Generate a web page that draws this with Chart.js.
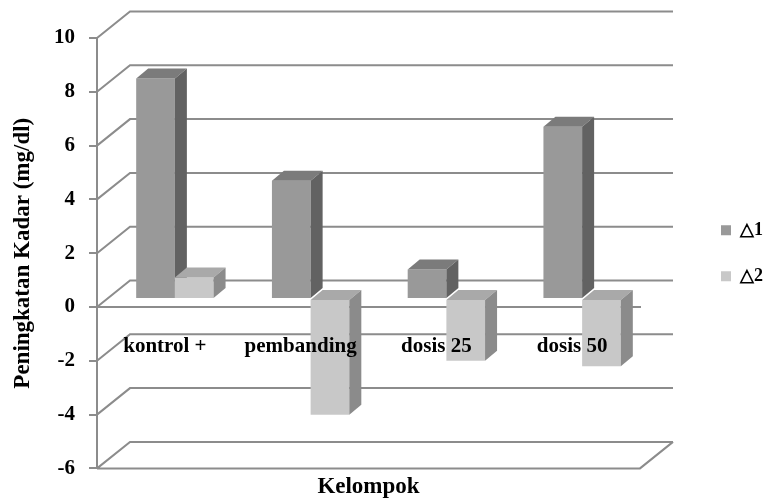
<!DOCTYPE html>
<html>
<head>
<meta charset="utf-8">
<script src="https://cdn.jsdelivr.net/npm/chart.js@4.4.1/dist/chart.umd.min.js"></script>
<style>
  html, body { margin: 0; padding: 0; background: #fff; }
  #wrap { width: 764px; height: 502px; }
</style>
</head>
<body>
<div id="wrap"><canvas id="c" width="764" height="502"></canvas></div>
<script>
// Groups and the two measured increases (mg/dl)
const categories = ['kontrol +', 'pembanding', 'dosis 25', 'dosis 50'];
const delta1 = [8.2, 4.4, 1.1, 6.4];
const delta2 = [0.8, -4.3, -2.3, -2.5];
const seriesNames = ['\u25B31', '\u25B32'];
const yTicks = [-6, -4, -2, 0, 2, 4, 6, 8, 10];

const FONT = 'Liberation Serif';
const LINE = '#8c8c8c';
const WALL = { dx: 33, dy: -26.5 };   // depth of the back wall
const PLANE = { dx: 10, dy: -8 };     // plane the columns stand in
const DEPTH = { dx: 12, dy: -10 };    // column thickness
const faces = [
  { front: '#999999', top: '#7b7b7b', side: '#626262' },
  { front: '#c8c8c8', top: '#a9a9a9', side: '#8b8b8b' }
];

function poly(ctx, pts) {
  ctx.beginPath();
  ctx.moveTo(pts[0][0], pts[0][1]);
  for (let i = 1; i < pts.length; i++) ctx.lineTo(pts[i][0], pts[i][1]);
  ctx.closePath();
  ctx.fill();
}

function drawFaces(ctx, meta, index) {
  const f = faces[index];
  meta.data.forEach(bar => {
    const { x, y, base, width } = bar.getProps(['x', 'y', 'base', 'width'], true);
    const l = x - width / 2, r = x + width / 2;
    const t = Math.min(y, base), b = Math.max(y, base);
    ctx.fillStyle = f.top;
    poly(ctx, [[l, t], [l + DEPTH.dx, t + DEPTH.dy], [r + DEPTH.dx, t + DEPTH.dy], [r, t]]);
    ctx.fillStyle = f.side;
    poly(ctx, [[r, t], [r + DEPTH.dx, t + DEPTH.dy], [r + DEPTH.dx, b + DEPTH.dy], [r, b]]);
  });
}

// Side wall / back wall gridlines, the floor, and 3D column faces.
// The right-hand series is painted last so it sits in front of the left one.
const box3d = {
  id: 'box3d',
  beforeDatasetsDraw(chart) {
    const { ctx, chartArea: a, scales: { y } } = chart;
    ctx.save();
    ctx.strokeStyle = LINE;
    ctx.lineWidth = 2;
    ctx.beginPath();
    y.ticks.forEach(t => {
      const py = y.getPixelForValue(t.value);
      ctx.moveTo(a.left, py);
      ctx.lineTo(a.left + WALL.dx, py + WALL.dy);
      ctx.lineTo(a.right + WALL.dx, py + WALL.dy);
    });
    const fy = y.getPixelForValue(y.min);
    ctx.moveTo(a.left, fy);
    ctx.lineTo(a.right, fy);
    ctx.lineTo(a.right + WALL.dx, fy + WALL.dy);
    ctx.stroke();
    ctx.restore();
  },
  beforeDatasetDraw(chart, args) {
    if (args.index === 1) return false;
    chart.ctx.save();
    chart.ctx.translate(PLANE.dx, PLANE.dy);
  },
  afterDatasetDraw(chart, args) {
    drawFaces(chart.ctx, args.meta, args.index);
    chart.ctx.restore();
  },
  afterDatasetsDraw(chart) {
    const ctx = chart.ctx;
    const meta = chart.getDatasetMeta(1);
    ctx.save();
    ctx.translate(PLANE.dx, PLANE.dy);
    meta.data.forEach(el => el.draw(ctx, chart.chartArea));
    drawFaces(ctx, meta, 1);
    ctx.restore();
  }
};

const boldFont = (size) => ({ family: FONT, size: size, weight: 'bold' });

new Chart(document.getElementById('c'), {
  type: 'bar',
  data: {
    labels: categories,
    datasets: [
      { label: seriesNames[0], data: delta1, backgroundColor: faces[0].front },
      { label: seriesNames[1], data: delta2, backgroundColor: faces[1].front }
    ]
  },
  options: {
    responsive: false,
    animation: false,
    events: [],
    devicePixelRatio: 1,
    layout: { padding: { top: 38, left: 0, right: 0, bottom: 0 } },
    datasets: {
      bar: { categoryPercentage: 0.57, barPercentage: 1, borderWidth: 0, clip: false }
    },
    scales: {
      x: {
        type: 'category',
        position: { y: 0 },
        grid: { display: false, drawTicks: false },
        border: { color: LINE, width: 2 },
        ticks: { z: 1, font: boldFont(21), color: '#000', padding: 27, maxRotation: 0, autoSkip: false }
      },
      y: {
        min: yTicks[0],
        max: yTicks[yTicks.length - 1],
        afterBuildTicks: s => { s.ticks = yTicks.map(v => ({ value: v })); },
        afterFit: s => { s.width = 97; },
        grid: { drawOnChartArea: false, drawTicks: true, tickLength: 8, color: LINE, lineWidth: 2 },
        border: { color: LINE, width: 2 },
        ticks: { font: boldFont(21), color: '#000', padding: 14 },
        title: {
          display: true,
          text: 'Peningkatan Kadar (mg/dl)',
          font: boldFont(23),
          color: '#000',
          padding: { top: 9, bottom: 0 }
        }
      },
      gap: {
        type: 'linear',
        position: 'right',
        grid: { display: false },
        border: { display: false },
        ticks: { display: false },
        afterFit: s => { s.width = 53; }
      }
    },
    plugins: {
      legend: {
        position: 'right',
        fullSize: false,
        maxWidth: 71,
        labels: {
          boxWidth: 10,
          boxHeight: 10,
          padding: 28,
          color: '#000',
          font: boldFont(18),
          sort: (a, b) => a.datasetIndex - b.datasetIndex
        }
      },
      title: {
        display: true,
        text: 'Kelompok',
        position: 'bottom',
        fullSize: false,
        color: '#000',
        font: boldFont(23),
        padding: { top: 5, bottom: 1 }
      },
      tooltip: { enabled: false }
    }
  },
  plugins: [box3d]
});
</script>
</body>
</html>
